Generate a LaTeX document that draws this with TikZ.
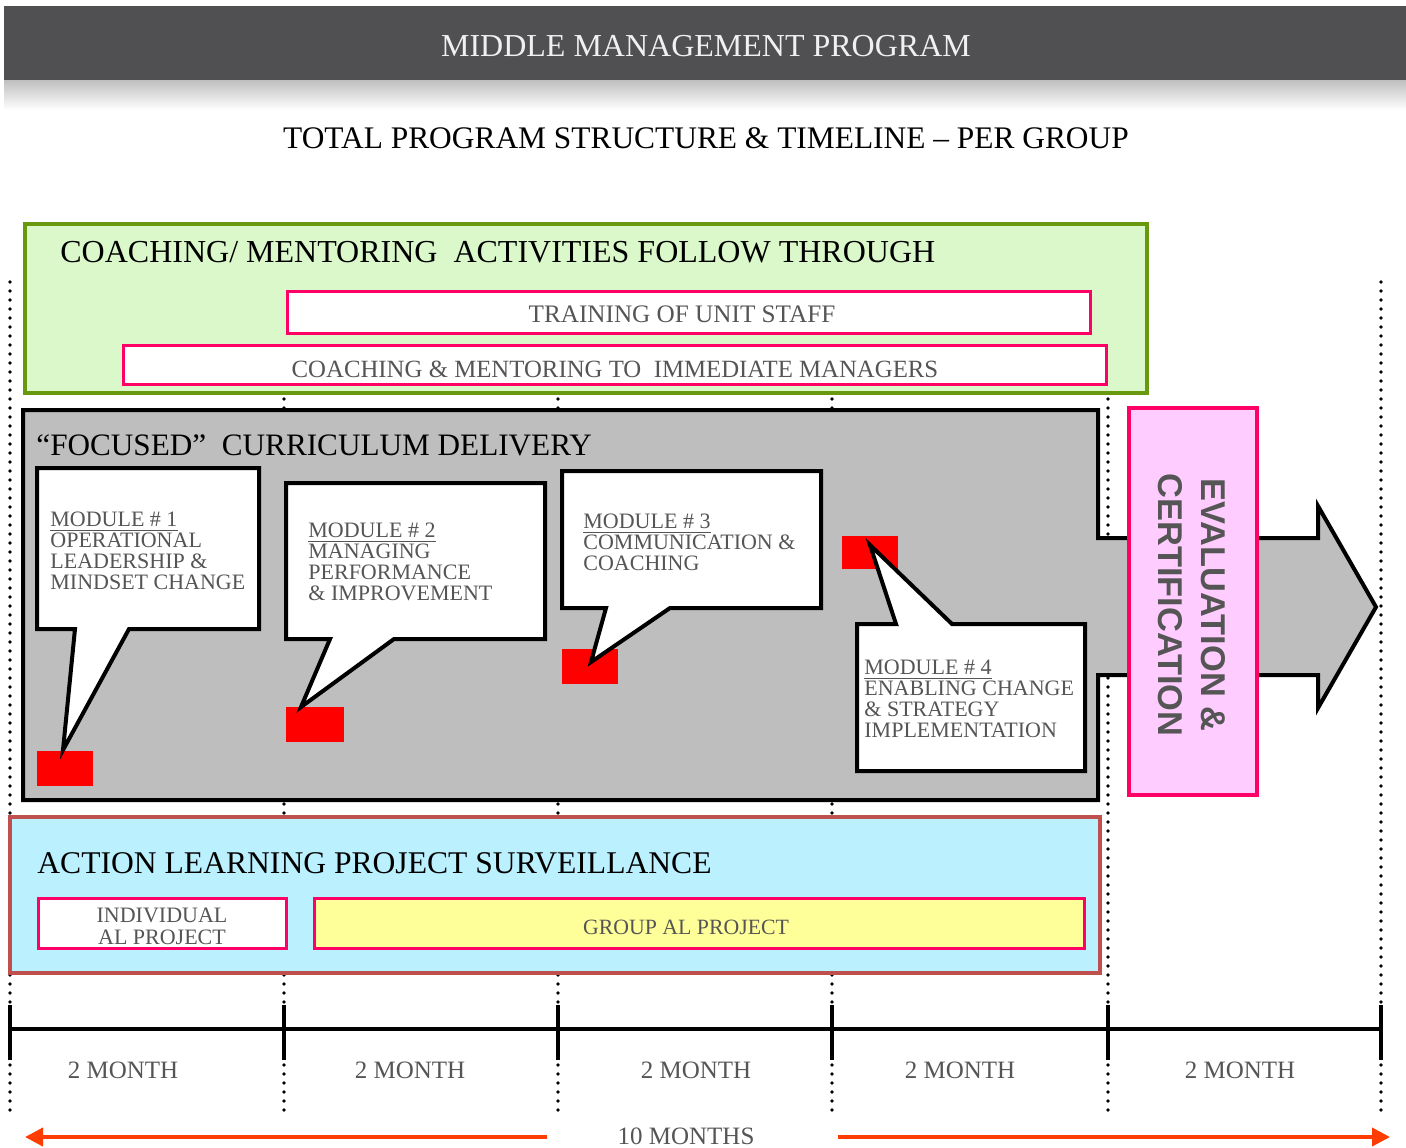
\documentclass[tikz,border=0pt]{standalone}
\usepackage{fontspec}
\setmainfont{Liberation Serif}
\newfontfamily\evalsans{Liberation Sans}
\usetikzlibrary{arrows.meta,fit}

\definecolor{headgray}{RGB}{80,80,82}
\definecolor{coachfill}{RGB}{218,248,201}
\definecolor{coachline}{RGB}{104,152,14}
\definecolor{hotpink}{RGB}{255,0,102}
\definecolor{curfill}{RGB}{190,190,190}
\definecolor{evalfill}{RGB}{255,204,255}
\definecolor{alfill}{RGB}{187,241,254}
\definecolor{alline}{RGB}{192,80,77}
\definecolor{paleyellow}{RGB}{255,255,153}
\definecolor{inkgray}{RGB}{85,85,85}
\definecolor{spanred}{RGB}{255,61,0}

\begin{document}
\begin{tikzpicture}[x=0.5pt,y=-0.5pt,
  fitbox/.style={inner sep=0pt, outer sep=0pt},
  bandbox/.style={fitbox, draw=hotpink, line width=1.5pt, fill=white},
  inktext/.style={text=inkgray, inner sep=0pt},
  modtext/.style={inktext, align=left, anchor=north west,
    font=\fontsize{11}{10.5}\selectfont},
  callout/.style={draw=black, fill=white, line width=2pt, miter limit=10},
  marker/.style={fitbox, fill=red},
  guide/.style={line width=1.9pt, dash pattern=on 0pt off 4.5pt, line cap=round},
  tick/.style={line width=2pt},
  span/.style={spanred, line width=2pt, -{Triangle[length=9pt,width=9pt]}},
  monthlbl/.style={inktext, anchor=base, font=\fontsize{12.5}{14}\selectfont}
]
\useasboundingbox (0,0) rectangle (1406,1147);

% ---------- header ----------
\shade[top color=black!25, bottom color=white] (4,80) rectangle (1406,110);
\node[fitbox, fill=headgray, fit={(4,6)(1406,80)}] (head) {};
\node[anchor=base, text=white!94!black, inner sep=0pt,
      font=\fontsize{16}{18}\selectfont] (headtitle) at (706,56)
      {MIDDLE MANAGEMENT PROGRAM};
\node[anchor=base, inner sep=0pt, font=\fontsize{15.7}{18}\selectfont]
      (subtitle) at (706,148)
      {TOTAL PROGRAM STRUCTURE \& TIMELINE – PER GROUP};

% ---------- month guides ----------
\foreach \gx/\gn in {10/0,284/1,558/2,832/3,1108/4,1381/5}{
  \coordinate (gtop\gn) at (\gx,282);
  \coordinate (gbot\gn) at (\gx,1112);
  \draw[guide] (gtop\gn) -- (gbot\gn);
}

% ---------- coaching / mentoring ----------
\node[fitbox, draw=coachline, line width=2pt, fill=coachfill,
      fit={(25,224)(1147,393)}] (coach) {};
\node[anchor=base west, inner sep=0pt, font=\fontsize{16}{18}\selectfont]
      (coachtitle) at (60,262)
      {COACHING/ MENTORING\ \ ACTIVITIES FOLLOW THROUGH};
\node[bandbox, fit={(287,291)(1090,333)}] (staff) {};
\node[inktext, anchor=base, font=\fontsize{12.6}{14}\selectfont]
      (stafftext) at (682,322) {TRAINING OF UNIT STAFF};
\node[bandbox, fit={(123,345)(1106,384)}] (mgrs) {};
\node[inktext, anchor=base, font=\fontsize{12.4}{14}\selectfont]
      (mgrstext) at (615,377) {COACHING \& MENTORING TO\ \ IMMEDIATE MANAGERS};

% ---------- curriculum delivery arrow ----------
\draw[draw=black, fill=curfill, line width=2pt, miter limit=10]
  (23,410) -- (1098,410) -- (1098,538) -- (1318,538) -- (1318,506)
  -- (1376,607) -- (1318,708) -- (1318,675) -- (1098,675)
  -- (1098,800) -- (23,800) -- cycle;
\node[anchor=base west, inner sep=0pt, font=\fontsize{15.6}{18}\selectfont]
      (curtitle) at (36,455) {“FOCUSED”\ \ CURRICULUM DELIVERY};

% markers
\node[marker, fit={(37,751)(93,786)}] (mk1) {};
\node[marker, fit={(286,707)(344,742)}] (mk2) {};
\node[marker, fit={(562,649)(618,684)}] (mk3) {};
\node[marker, fit={(842,536)(898,569)}] (mk4) {};

% speech bubbles
\draw[callout] (37,468) -- (259,468) -- (259,629) -- (129,629) -- (63,750)
  -- (75,629) -- (37,629) -- cycle;
\draw[callout] (286,483) -- (545,483) -- (545,639) -- (394,639) -- (301,707)
  -- (330,639) -- (286,639) -- cycle;
\draw[callout] (562,471) -- (821,471) -- (821,608) -- (670,608) -- (591,662)
  -- (606,608) -- (562,608) -- cycle;
\draw[callout] (857,624) -- (896,624) -- (870,545) -- (952,624)
  -- (1085,624) -- (1085,771) -- (857,771) -- cycle;

\node[modtext] (mod1) at (50,512)
  {\underline{MODULE \# 1}\\OPERATIONAL\\LEADERSHIP \&\\MINDSET CHANGE};
\node[modtext] (mod2) at (308,523)
  {\underline{MODULE \# 2}\\MANAGING\\PERFORMANCE\\\& IMPROVEMENT};
\node[modtext] (mod3) at (583,514)
  {\underline{MODULE \# 3}\\COMMUNICATION \&\\COACHING};
\node[modtext] (mod4) at (864,660)
  {\underline{MODULE \# 4}\\ENABLING CHANGE\\\& STRATEGY\\IMPLEMENTATION};

% ---------- evaluation ----------
\node[fitbox, draw=hotpink, line width=2pt, fill=evalfill,
      fit={(1129,408)(1257,795)}] (eval) {};
\node[rotate=-90, align=center, text=inkgray, inner sep=0pt,
      font=\evalsans\bfseries\fontsize{17.2}{21.5}\selectfont]
      (evaltext) at (1192,605) {EVALUATION \&\\CERTIFICATION};

% ---------- action learning ----------
\node[fitbox, draw=alline, line width=2pt, fill=alfill,
      fit={(10,817)(1100,973)}] (al) {};
\node[anchor=base west, inner sep=0pt, font=\fontsize{15.8}{18}\selectfont]
      (altitle) at (37,873) {ACTION LEARNING PROJECT SURVEILLANCE};
\node[bandbox, fit={(38,898)(286,948)}] (indiv) {};
\node[inktext, align=center, font=\fontsize{11}{11}\selectfont]
      (indivtext) at (162,926) {INDIVIDUAL\\AL PROJECT};
\node[bandbox, fill=paleyellow, fit={(314,898)(1084,948)}] (group) {};
\node[inktext, anchor=base, font=\fontsize{10.9}{14}\selectfont]
      (grouptext) at (686,934) {GROUP AL PROJECT};

% ---------- timeline ----------
\foreach \gx/\gn in {10/0,284/1,558/2,832/3,1108/4,1381/5}{
  \coordinate (tk\gn) at (\gx,1029);
  \coordinate (tka\gn) at (\gx,1005);
  \coordinate (tkb\gn) at (\gx,1060);
  \draw[tick] (tka\gn) -- (tkb\gn);
}
\draw[tick] (tk0) -- (tk5);

\node[monthlbl] (m1) at (123,1078) {2 MONTH};
\node[monthlbl] (m2) at (410,1078) {2 MONTH};
\node[monthlbl] (m3) at (696,1078) {2 MONTH};
\node[monthlbl] (m4) at (960,1078) {2 MONTH};
\node[monthlbl] (m5) at (1240,1078) {2 MONTH};

\node[monthlbl] (total) at (686,1144) {10 MONTHS};
\coordinate (spanLs) at (547,1137);
\coordinate (spanLe) at (25,1137);
\coordinate (spanRs) at (838,1137);
\coordinate (spanRe) at (1390,1137);
\draw[span] (spanLs) -- (spanLe);
\draw[span] (spanRs) -- (spanRe);
\end{tikzpicture}
\end{document}
